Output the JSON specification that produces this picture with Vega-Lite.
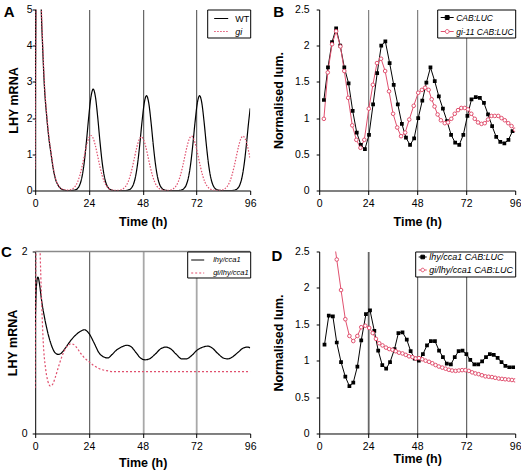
{
  "$schema": "https://vega.github.io/schema/vega-lite/v6.json",
  "padding": {"left": 0.2, "top": 4.5, "right": 0, "bottom": 0},
  "background": "white",
  "config": {
    "font": "Liberation Sans",
    "view": {"stroke": null},
    "axis": {"labelFont": "Liberation Sans", "titleFont": "Liberation Sans", "labelFontSize": 10.5, "titleFontSize": 12.5, "titleFontWeight": "bold", "labelColor": "#000", "titleColor": "#000", "domainColor": "#000", "tickColor": "#000", "domainWidth": 1, "tickWidth": 1, "grid": false, "labelFlush": false, "labelOverlap": false, "labelBound": false},
    "axisX": {"tickSize": 4, "labelPadding": 4, "grid": true},
    "axisY": {"tickSize": 3},
    "legend": {"title": null, "orient": "top-right", "offset": 0, "padding": 1, "strokeColor": "#000", "fillColor": "#fff", "labelFont": "Liberation Sans", "labelColor": "#000"},
    "title": {"font": "Liberation Sans", "fontSize": 15, "fontWeight": "bold", "anchor": "start", "frame": "bounds", "offset": 0, "color": "#000"}
  },
  "resolve": {"scale": {"color": "independent", "strokeDash": "independent"}, "legend": {"color": "independent", "strokeDash": "independent"}},
  "datasets": {
    "a": [
      {"t":0,"v":2.5,"s":"WT"},{"t":0.5,"v":6.5,"s":"WT"},{"t":1,"v":8,"s":"WT"},{"t":2,"v":7,"s":"WT"},{"t":2.7,"v":5,"s":"WT"},{"t":3.3,"v":4,"s":"WT"},{"t":4,"v":3,"s":"WT"},{"t":5.2,"v":2,"s":"WT"},{"t":6,"v":1.5,"s":"WT"},{"t":7.1,"v":1,"s":"WT"},{"t":8,"v":0.62,"s":"WT"},{"t":8.9,"v":0.35,"s":"WT"},{"t":10,"v":0.17,"s":"WT"},{"t":11,"v":0.08,"s":"WT"},{"t":12,"v":0.03,"s":"WT"},{"t":13,"v":0.01,"s":"WT"},{"t":14,"v":0,"s":"WT"},{"t":16,"v":0,"s":"WT"},
      {"t":17.9,"v":0.017,"s":"WT"},{"t":18.9,"v":0.055,"s":"WT"},{"t":19.9,"v":0.157,"s":"WT"},{"t":20.9,"v":0.378,"s":"WT"},{"t":21.9,"v":0.778,"s":"WT"},{"t":22.9,"v":1.364,"s":"WT"},{"t":23.9,"v":2.033,"s":"WT"},{"t":24.9,"v":2.584,"s":"WT"},{"t":25.9,"v":2.8,"s":"WT"},{"t":26.9,"v":2.584,"s":"WT"},{"t":27.9,"v":2.033,"s":"WT"},{"t":28.9,"v":1.364,"s":"WT"},{"t":29.9,"v":0.778,"s":"WT"},{"t":30.9,"v":0.378,"s":"WT"},{"t":31.9,"v":0.157,"s":"WT"},{"t":32.9,"v":0.055,"s":"WT"},{"t":33.9,"v":0.017,"s":"WT"},{"t":35,"v":0,"s":"WT"},{"t":40.5,"v":0,"s":"WT"},
      {"t":41.7,"v":0.016,"s":"WT"},{"t":42.7,"v":0.052,"s":"WT"},{"t":43.7,"v":0.147,"s":"WT"},{"t":44.7,"v":0.354,"s":"WT"},{"t":45.7,"v":0.728,"s":"WT"},{"t":46.7,"v":1.276,"s":"WT"},{"t":47.7,"v":1.902,"s":"WT"},{"t":48.7,"v":2.418,"s":"WT"},{"t":49.7,"v":2.62,"s":"WT"},{"t":50.7,"v":2.418,"s":"WT"},{"t":51.7,"v":1.902,"s":"WT"},{"t":52.7,"v":1.276,"s":"WT"},{"t":53.7,"v":0.728,"s":"WT"},{"t":54.7,"v":0.354,"s":"WT"},{"t":55.7,"v":0.147,"s":"WT"},{"t":56.7,"v":0.052,"s":"WT"},{"t":57.7,"v":0.016,"s":"WT"},{"t":59,"v":0,"s":"WT"},{"t":64,"v":0,"s":"WT"},
      {"t":65.4,"v":0.016,"s":"WT"},{"t":66.4,"v":0.052,"s":"WT"},{"t":67.4,"v":0.147,"s":"WT"},{"t":68.4,"v":0.354,"s":"WT"},{"t":69.4,"v":0.728,"s":"WT"},{"t":70.4,"v":1.276,"s":"WT"},{"t":71.4,"v":1.902,"s":"WT"},{"t":72.4,"v":2.418,"s":"WT"},{"t":73.4,"v":2.62,"s":"WT"},{"t":74.4,"v":2.418,"s":"WT"},{"t":75.4,"v":1.902,"s":"WT"},{"t":76.4,"v":1.276,"s":"WT"},{"t":77.4,"v":0.728,"s":"WT"},{"t":78.4,"v":0.354,"s":"WT"},{"t":79.4,"v":0.147,"s":"WT"},{"t":80.4,"v":0.052,"s":"WT"},{"t":81.4,"v":0.016,"s":"WT"},{"t":83,"v":0,"s":"WT"},{"t":88,"v":0,"s":"WT"},
      {"t":89.3,"v":0.016,"s":"WT"},{"t":90.3,"v":0.051,"s":"WT"},{"t":91.3,"v":0.146,"s":"WT"},{"t":92.3,"v":0.351,"s":"WT"},{"t":93.3,"v":0.723,"s":"WT"},{"t":94.3,"v":1.266,"s":"WT"},{"t":95.3,"v":1.888,"s":"WT"},{"t":96,"v":2.27,"s":"WT"},
      {"t":0,"v":0.6,"s":"gi"},{"t":0.5,"v":6.5,"s":"gi"},{"t":1,"v":8,"s":"gi"},{"t":2,"v":7,"s":"gi"},{"t":2.8,"v":5,"s":"gi"},{"t":3.4,"v":4,"s":"gi"},{"t":4.1,"v":3,"s":"gi"},{"t":5.3,"v":2,"s":"gi"},{"t":6.1,"v":1.5,"s":"gi"},{"t":7.2,"v":1,"s":"gi"},{"t":8.1,"v":0.62,"s":"gi"},{"t":9,"v":0.35,"s":"gi"},{"t":10,"v":0.18,"s":"gi"},{"t":11,"v":0.09,"s":"gi"},{"t":12,"v":0.04,"s":"gi"},{"t":13,"v":0.02,"s":"gi"},
      {"t":14.9,"v":0.008,"s":"gi"},{"t":15.9,"v":0.023,"s":"gi"},{"t":16.9,"v":0.055,"s":"gi"},{"t":17.9,"v":0.119,"s":"gi"},{"t":18.9,"v":0.234,"s":"gi"},{"t":19.9,"v":0.413,"s":"gi"},{"t":20.9,"v":0.661,"s":"gi"},{"t":21.9,"v":0.952,"s":"gi"},{"t":22.9,"v":1.234,"s":"gi"},{"t":23.9,"v":1.442,"s":"gi"},{"t":24.9,"v":1.52,"s":"gi"},{"t":25.9,"v":1.442,"s":"gi"},{"t":26.9,"v":1.234,"s":"gi"},{"t":27.9,"v":0.952,"s":"gi"},{"t":28.9,"v":0.661,"s":"gi"},{"t":29.9,"v":0.413,"s":"gi"},{"t":30.9,"v":0.234,"s":"gi"},{"t":31.9,"v":0.119,"s":"gi"},{"t":32.9,"v":0.055,"s":"gi"},{"t":33.9,"v":0.023,"s":"gi"},{"t":34.9,"v":0.008,"s":"gi"},{"t":36.1,"v":0.003,"s":"gi"},
      {"t":37.4,"v":0.008,"s":"gi"},{"t":38.4,"v":0.022,"s":"gi"},{"t":39.4,"v":0.053,"s":"gi"},{"t":40.4,"v":0.115,"s":"gi"},{"t":41.4,"v":0.228,"s":"gi"},{"t":42.4,"v":0.403,"s":"gi"},{"t":43.4,"v":0.644,"s":"gi"},{"t":44.4,"v":0.926,"s":"gi"},{"t":45.4,"v":1.202,"s":"gi"},{"t":46.4,"v":1.405,"s":"gi"},{"t":47.4,"v":1.48,"s":"gi"},{"t":48.4,"v":1.405,"s":"gi"},{"t":49.4,"v":1.202,"s":"gi"},{"t":50.4,"v":0.926,"s":"gi"},{"t":51.4,"v":0.644,"s":"gi"},{"t":52.4,"v":0.403,"s":"gi"},{"t":53.4,"v":0.228,"s":"gi"},{"t":54.4,"v":0.115,"s":"gi"},{"t":55.4,"v":0.053,"s":"gi"},{"t":56.4,"v":0.022,"s":"gi"},{"t":57.4,"v":0.008,"s":"gi"},{"t":58.6,"v":0.003,"s":"gi"},
      {"t":59.8,"v":0.008,"s":"gi"},{"t":60.8,"v":0.022,"s":"gi"},{"t":61.8,"v":0.054,"s":"gi"},{"t":62.8,"v":0.117,"s":"gi"},{"t":63.8,"v":0.231,"s":"gi"},{"t":64.8,"v":0.408,"s":"gi"},{"t":65.8,"v":0.653,"s":"gi"},{"t":66.8,"v":0.939,"s":"gi"},{"t":67.8,"v":1.218,"s":"gi"},{"t":68.8,"v":1.424,"s":"gi"},{"t":69.8,"v":1.5,"s":"gi"},{"t":70.8,"v":1.424,"s":"gi"},{"t":71.8,"v":1.218,"s":"gi"},{"t":72.8,"v":0.939,"s":"gi"},{"t":73.8,"v":0.653,"s":"gi"},{"t":74.8,"v":0.408,"s":"gi"},{"t":75.8,"v":0.231,"s":"gi"},{"t":76.8,"v":0.117,"s":"gi"},{"t":77.8,"v":0.054,"s":"gi"},{"t":78.8,"v":0.022,"s":"gi"},{"t":79.8,"v":0.008,"s":"gi"},{"t":81.3,"v":0.003,"s":"gi"},
      {"t":82.8,"v":0.008,"s":"gi"},{"t":83.8,"v":0.022,"s":"gi"},{"t":84.8,"v":0.054,"s":"gi"},{"t":85.8,"v":0.117,"s":"gi"},{"t":86.8,"v":0.231,"s":"gi"},{"t":87.8,"v":0.408,"s":"gi"},{"t":88.8,"v":0.653,"s":"gi"},{"t":89.8,"v":0.939,"s":"gi"},{"t":90.8,"v":1.218,"s":"gi"},{"t":91.8,"v":1.424,"s":"gi"},{"t":92.8,"v":1.5,"s":"gi"},{"t":93.8,"v":1.424,"s":"gi"},{"t":94.8,"v":1.218,"s":"gi"},{"t":95.8,"v":0.939,"s":"gi"},{"t":96,"v":0.88,"s":"gi"}
    ],
    "b": [
      {"t":2.3,"v":1.25,"s":"CAB:LUC"},{"t":4.3,"v":1.7,"s":"CAB:LUC"},{"t":6.3,"v":2.05,"s":"CAB:LUC"},{"t":8.3,"v":2.24,"s":"CAB:LUC"},{"t":10.3,"v":2.0,"s":"CAB:LUC"},{"t":12.3,"v":1.7,"s":"CAB:LUC"},{"t":14.4,"v":1.48,"s":"CAB:LUC"},{"t":16.4,"v":1.1,"s":"CAB:LUC"},{"t":18.4,"v":0.8,"s":"CAB:LUC"},{"t":20.4,"v":0.63,"s":"CAB:LUC"},{"t":22.4,"v":0.57,"s":"CAB:LUC"},{"t":24.4,"v":0.77,"s":"CAB:LUC"},{"t":26.4,"v":1.19,"s":"CAB:LUC"},{"t":28.4,"v":1.62,"s":"CAB:LUC"},{"t":30.4,"v":2.0,"s":"CAB:LUC"},{"t":32.4,"v":2.06,"s":"CAB:LUC"},{"t":34.5,"v":1.76,"s":"CAB:LUC"},{"t":36.5,"v":1.46,"s":"CAB:LUC"},{"t":38.5,"v":1.19,"s":"CAB:LUC"},{"t":40.5,"v":0.92,"s":"CAB:LUC"},{"t":42.5,"v":0.73,"s":"CAB:LUC"},{"t":44.5,"v":0.63,"s":"CAB:LUC"},{"t":46.5,"v":0.72,"s":"CAB:LUC"},{"t":48.5,"v":1.0,"s":"CAB:LUC"},{"t":50.5,"v":1.24,"s":"CAB:LUC"},{"t":52.5,"v":1.49,"s":"CAB:LUC"},{"t":54.5,"v":1.7,"s":"CAB:LUC"},{"t":56.6,"v":1.51,"s":"CAB:LUC"},{"t":58.6,"v":1.3,"s":"CAB:LUC"},{"t":60.6,"v":1.13,"s":"CAB:LUC"},{"t":62.6,"v":0.96,"s":"CAB:LUC"},{"t":64.6,"v":0.77,"s":"CAB:LUC"},{"t":66.6,"v":0.66,"s":"CAB:LUC"},{"t":68.6,"v":0.63,"s":"CAB:LUC"},{"t":70.6,"v":0.77,"s":"CAB:LUC"},{"t":72.6,"v":1.03,"s":"CAB:LUC"},{"t":74.6,"v":1.26,"s":"CAB:LUC"},{"t":76.7,"v":1.29,"s":"CAB:LUC"},{"t":78.7,"v":1.28,"s":"CAB:LUC"},{"t":80.7,"v":1.21,"s":"CAB:LUC"},{"t":82.7,"v":1.05,"s":"CAB:LUC"},{"t":84.7,"v":0.89,"s":"CAB:LUC"},{"t":86.7,"v":0.74,"s":"CAB:LUC"},{"t":88.7,"v":0.67,"s":"CAB:LUC"},{"t":90.7,"v":0.65,"s":"CAB:LUC"},{"t":92.7,"v":0.7,"s":"CAB:LUC"},{"t":94.7,"v":0.82,"s":"CAB:LUC"},
      {"t":2.3,"v":0.99,"s":"gi-11 CAB:LUC"},{"t":4.2,"v":1.63,"s":"gi-11 CAB:LUC"},{"t":6.3,"v":2.02,"s":"gi-11 CAB:LUC"},{"t":8.3,"v":2.2,"s":"gi-11 CAB:LUC"},{"t":10.4,"v":1.99,"s":"gi-11 CAB:LUC"},{"t":12.3,"v":1.65,"s":"gi-11 CAB:LUC"},{"t":14.2,"v":1.28,"s":"gi-11 CAB:LUC"},{"t":16.2,"v":0.9,"s":"gi-11 CAB:LUC"},{"t":18.2,"v":0.7,"s":"gi-11 CAB:LUC"},{"t":20.2,"v":0.59,"s":"gi-11 CAB:LUC"},{"t":22.1,"v":0.7,"s":"gi-11 CAB:LUC"},{"t":24.3,"v":1.13,"s":"gi-11 CAB:LUC"},{"t":26.3,"v":1.46,"s":"gi-11 CAB:LUC"},{"t":28.3,"v":1.76,"s":"gi-11 CAB:LUC"},{"t":30.3,"v":1.82,"s":"gi-11 CAB:LUC"},{"t":32.3,"v":1.65,"s":"gi-11 CAB:LUC"},{"t":34.2,"v":1.37,"s":"gi-11 CAB:LUC"},{"t":36.2,"v":1.06,"s":"gi-11 CAB:LUC"},{"t":38.2,"v":0.87,"s":"gi-11 CAB:LUC"},{"t":40.1,"v":0.75,"s":"gi-11 CAB:LUC"},{"t":42.1,"v":0.8,"s":"gi-11 CAB:LUC"},{"t":44.1,"v":0.98,"s":"gi-11 CAB:LUC"},{"t":46.3,"v":1.17,"s":"gi-11 CAB:LUC"},{"t":48.5,"v":1.35,"s":"gi-11 CAB:LUC"},{"t":50.3,"v":1.39,"s":"gi-11 CAB:LUC"},{"t":51.9,"v":1.42,"s":"gi-11 CAB:LUC"},{"t":53.6,"v":1.39,"s":"gi-11 CAB:LUC"},{"t":55.1,"v":1.26,"s":"gi-11 CAB:LUC"},{"t":56.5,"v":1.16,"s":"gi-11 CAB:LUC"},{"t":58.0,"v":1.05,"s":"gi-11 CAB:LUC"},{"t":59.6,"v":0.97,"s":"gi-11 CAB:LUC"},{"t":61.5,"v":0.93,"s":"gi-11 CAB:LUC"},{"t":63.1,"v":0.94,"s":"gi-11 CAB:LUC"},{"t":64.7,"v":0.99,"s":"gi-11 CAB:LUC"},{"t":66.4,"v":1.06,"s":"gi-11 CAB:LUC"},{"t":68.0,"v":1.11,"s":"gi-11 CAB:LUC"},{"t":69.6,"v":1.14,"s":"gi-11 CAB:LUC"},{"t":71.3,"v":1.14,"s":"gi-11 CAB:LUC"},{"t":72.9,"v":1.12,"s":"gi-11 CAB:LUC"},{"t":74.5,"v":1.06,"s":"gi-11 CAB:LUC"},{"t":76.2,"v":0.99,"s":"gi-11 CAB:LUC"},{"t":77.8,"v":0.94,"s":"gi-11 CAB:LUC"},{"t":79.5,"v":0.92,"s":"gi-11 CAB:LUC"},{"t":81.1,"v":0.93,"s":"gi-11 CAB:LUC"},{"t":82.7,"v":0.98,"s":"gi-11 CAB:LUC"},{"t":84.4,"v":1.03,"s":"gi-11 CAB:LUC"},{"t":86.0,"v":1.03,"s":"gi-11 CAB:LUC"},{"t":87.7,"v":1.03,"s":"gi-11 CAB:LUC"},{"t":89.3,"v":1.0,"s":"gi-11 CAB:LUC"},{"t":90.9,"v":0.97,"s":"gi-11 CAB:LUC"},{"t":92.6,"v":0.93,"s":"gi-11 CAB:LUC"},{"t":94.2,"v":0.89,"s":"gi-11 CAB:LUC"},{"t":95.9,"v":0.84,"s":"gi-11 CAB:LUC"}
    ],
    "c": [
      {"t":0,"v":1.2,"s":"lhy/cca1"},{"t":0.5,"v":1.6,"s":"lhy/cca1"},{"t":1.2,"v":1.72,"s":"lhy/cca1"},{"t":2,"v":1.63,"s":"lhy/cca1"},{"t":2.7,"v":1.49,"s":"lhy/cca1"},{"t":4.2,"v":1.27,"s":"lhy/cca1"},{"t":5.6,"v":1.11,"s":"lhy/cca1"},{"t":7.1,"v":0.98,"s":"lhy/cca1"},{"t":8.5,"v":0.9,"s":"lhy/cca1"},{"t":9.5,"v":0.875,"s":"lhy/cca1"},{"t":10.5,"v":0.87,"s":"lhy/cca1"},{"t":11.5,"v":0.88,"s":"lhy/cca1"},{"t":13.5,"v":0.94,"s":"lhy/cca1"},{"t":15.8,"v":1.02,"s":"lhy/cca1"},{"t":18,"v":1.08,"s":"lhy/cca1"},{"t":20,"v":1.12,"s":"lhy/cca1"},{"t":22,"v":1.14,"s":"lhy/cca1"},{"t":24,"v":1.1,"s":"lhy/cca1"},{"t":26.2,"v":1.0,"s":"lhy/cca1"},{"t":28.4,"v":0.89,"s":"lhy/cca1"},{"t":30.7,"v":0.84,"s":"lhy/cca1"},{"t":32.5,"v":0.83,"s":"lhy/cca1"},{"t":34,"v":0.86,"s":"lhy/cca1"},{"t":36,"v":0.91,"s":"lhy/cca1"},{"t":38.5,"v":0.95,"s":"lhy/cca1"},{"t":41,"v":0.97,"s":"lhy/cca1"},{"t":43,"v":0.95,"s":"lhy/cca1"},{"t":45,"v":0.89,"s":"lhy/cca1"},{"t":47,"v":0.83,"s":"lhy/cca1"},{"t":49,"v":0.81,"s":"lhy/cca1"},{"t":51,"v":0.82,"s":"lhy/cca1"},{"t":53.5,"v":0.87,"s":"lhy/cca1"},{"t":56,"v":0.93,"s":"lhy/cca1"},{"t":58.3,"v":0.95,"s":"lhy/cca1"},{"t":60.5,"v":0.93,"s":"lhy/cca1"},{"t":63,"v":0.87,"s":"lhy/cca1"},{"t":65.5,"v":0.82,"s":"lhy/cca1"},{"t":67.5,"v":0.82,"s":"lhy/cca1"},{"t":70,"v":0.86,"s":"lhy/cca1"},{"t":72.5,"v":0.92,"s":"lhy/cca1"},{"t":75,"v":0.95,"s":"lhy/cca1"},{"t":77,"v":0.96,"s":"lhy/cca1"},{"t":79,"v":0.94,"s":"lhy/cca1"},{"t":81.5,"v":0.88,"s":"lhy/cca1"},{"t":84,"v":0.83,"s":"lhy/cca1"},{"t":86,"v":0.82,"s":"lhy/cca1"},{"t":88,"v":0.84,"s":"lhy/cca1"},{"t":90.5,"v":0.89,"s":"lhy/cca1"},{"t":93,"v":0.94,"s":"lhy/cca1"},{"t":95,"v":0.95,"s":"lhy/cca1"},{"t":96,"v":0.94,"s":"lhy/cca1"},
      {"t":0,"v":0.5,"s":"gi/lhy/cca1"},{"t":0.4,"v":2.2,"s":"gi/lhy/cca1"},{"t":0.9,"v":2.8,"s":"gi/lhy/cca1"},{"t":1.6,"v":2.6,"s":"gi/lhy/cca1"},{"t":2.2,"v":2.0,"s":"gi/lhy/cca1"},{"t":2.8,"v":1.5,"s":"gi/lhy/cca1"},{"t":3.6,"v":1.0,"s":"gi/lhy/cca1"},{"t":4.6,"v":0.72,"s":"gi/lhy/cca1"},{"t":5.6,"v":0.58,"s":"gi/lhy/cca1"},{"t":6.8,"v":0.52,"s":"gi/lhy/cca1"},{"t":8,"v":0.55,"s":"gi/lhy/cca1"},{"t":9,"v":0.62,"s":"gi/lhy/cca1"},{"t":10,"v":0.7,"s":"gi/lhy/cca1"},{"t":11,"v":0.78,"s":"gi/lhy/cca1"},{"t":12,"v":0.85,"s":"gi/lhy/cca1"},{"t":13,"v":0.91,"s":"gi/lhy/cca1"},{"t":14,"v":0.95,"s":"gi/lhy/cca1"},{"t":15,"v":0.975,"s":"gi/lhy/cca1"},{"t":16,"v":0.985,"s":"gi/lhy/cca1"},{"t":17,"v":0.98,"s":"gi/lhy/cca1"},{"t":18,"v":0.96,"s":"gi/lhy/cca1"},{"t":19,"v":0.93,"s":"gi/lhy/cca1"},{"t":20,"v":0.89,"s":"gi/lhy/cca1"},{"t":21,"v":0.86,"s":"gi/lhy/cca1"},{"t":22,"v":0.83,"s":"gi/lhy/cca1"},{"t":24,"v":0.79,"s":"gi/lhy/cca1"},{"t":26,"v":0.75,"s":"gi/lhy/cca1"},{"t":28,"v":0.72,"s":"gi/lhy/cca1"},{"t":30,"v":0.7,"s":"gi/lhy/cca1"},{"t":32,"v":0.69,"s":"gi/lhy/cca1"},{"t":35,"v":0.68,"s":"gi/lhy/cca1"},{"t":40,"v":0.68,"s":"gi/lhy/cca1"},{"t":96,"v":0.68,"s":"gi/lhy/cca1"}
    ],
    "d": [
      {"t":2.6,"v":1.22,"s":"lhy/cca1 CAB:LUC"},{"t":4.7,"v":1.62,"s":"lhy/cca1 CAB:LUC"},{"t":6.7,"v":1.61,"s":"lhy/cca1 CAB:LUC"},{"t":8.6,"v":1.25,"s":"lhy/cca1 CAB:LUC"},{"t":10.7,"v":0.98,"s":"lhy/cca1 CAB:LUC"},{"t":12.8,"v":0.78,"s":"lhy/cca1 CAB:LUC"},{"t":14.8,"v":0.65,"s":"lhy/cca1 CAB:LUC"},{"t":16.7,"v":0.7,"s":"lhy/cca1 CAB:LUC"},{"t":18.7,"v":0.92,"s":"lhy/cca1 CAB:LUC"},{"t":20.6,"v":1.28,"s":"lhy/cca1 CAB:LUC"},{"t":22.9,"v":1.64,"s":"lhy/cca1 CAB:LUC"},{"t":24.9,"v":1.69,"s":"lhy/cca1 CAB:LUC"},{"t":27.0,"v":1.41,"s":"lhy/cca1 CAB:LUC"},{"t":28.9,"v":1.14,"s":"lhy/cca1 CAB:LUC"},{"t":30.9,"v":0.94,"s":"lhy/cca1 CAB:LUC"},{"t":32.8,"v":0.89,"s":"lhy/cca1 CAB:LUC"},{"t":34.7,"v":0.98,"s":"lhy/cca1 CAB:LUC"},{"t":36.9,"v":1.16,"s":"lhy/cca1 CAB:LUC"},{"t":38.8,"v":1.38,"s":"lhy/cca1 CAB:LUC"},{"t":40.8,"v":1.39,"s":"lhy/cca1 CAB:LUC"},{"t":42.9,"v":1.29,"s":"lhy/cca1 CAB:LUC"},{"t":44.8,"v":1.13,"s":"lhy/cca1 CAB:LUC"},{"t":46.8,"v":1.03,"s":"lhy/cca1 CAB:LUC"},{"t":48.8,"v":1.0,"s":"lhy/cca1 CAB:LUC"},{"t":50.8,"v":1.09,"s":"lhy/cca1 CAB:LUC"},{"t":52.8,"v":1.21,"s":"lhy/cca1 CAB:LUC"},{"t":54.7,"v":1.27,"s":"lhy/cca1 CAB:LUC"},{"t":56.7,"v":1.27,"s":"lhy/cca1 CAB:LUC"},{"t":58.7,"v":1.14,"s":"lhy/cca1 CAB:LUC"},{"t":60.6,"v":1.05,"s":"lhy/cca1 CAB:LUC"},{"t":62.5,"v":0.96,"s":"lhy/cca1 CAB:LUC"},{"t":64.5,"v":0.95,"s":"lhy/cca1 CAB:LUC"},{"t":66.4,"v":1.05,"s":"lhy/cca1 CAB:LUC"},{"t":68.3,"v":1.13,"s":"lhy/cca1 CAB:LUC"},{"t":70.2,"v":1.14,"s":"lhy/cca1 CAB:LUC"},{"t":72.1,"v":1.09,"s":"lhy/cca1 CAB:LUC"},{"t":74.0,"v":1.01,"s":"lhy/cca1 CAB:LUC"},{"t":76.0,"v":0.95,"s":"lhy/cca1 CAB:LUC"},{"t":77.9,"v":0.95,"s":"lhy/cca1 CAB:LUC"},{"t":79.8,"v":0.99,"s":"lhy/cca1 CAB:LUC"},{"t":81.7,"v":1.05,"s":"lhy/cca1 CAB:LUC"},{"t":83.6,"v":1.09,"s":"lhy/cca1 CAB:LUC"},{"t":85.5,"v":1.08,"s":"lhy/cca1 CAB:LUC"},{"t":87.4,"v":1.04,"s":"lhy/cca1 CAB:LUC"},{"t":89.3,"v":0.98,"s":"lhy/cca1 CAB:LUC"},{"t":91.2,"v":0.93,"s":"lhy/cca1 CAB:LUC"},{"t":93.1,"v":0.91,"s":"lhy/cca1 CAB:LUC"},{"t":95.0,"v":0.91,"s":"lhy/cca1 CAB:LUC"},
      {"t":6.6,"v":2.8,"s":"gi/lhy/cca1 CAB:LUC"},{"t":8.6,"v":2.39,"s":"gi/lhy/cca1 CAB:LUC"},{"t":10.7,"v":1.97,"s":"gi/lhy/cca1 CAB:LUC"},{"t":12.8,"v":1.57,"s":"gi/lhy/cca1 CAB:LUC"},{"t":14.8,"v":1.34,"s":"gi/lhy/cca1 CAB:LUC"},{"t":16.7,"v":1.27,"s":"gi/lhy/cca1 CAB:LUC"},{"t":18.7,"v":1.34,"s":"gi/lhy/cca1 CAB:LUC"},{"t":20.6,"v":1.46,"s":"gi/lhy/cca1 CAB:LUC"},{"t":22.6,"v":1.48,"s":"gi/lhy/cca1 CAB:LUC"},{"t":24.5,"v":1.45,"s":"gi/lhy/cca1 CAB:LUC"},{"t":26.2,"v":1.38,"s":"gi/lhy/cca1 CAB:LUC"},{"t":27.8,"v":1.3,"s":"gi/lhy/cca1 CAB:LUC"},{"t":29.4,"v":1.24,"s":"gi/lhy/cca1 CAB:LUC"},{"t":31.0,"v":1.21,"s":"gi/lhy/cca1 CAB:LUC"},{"t":32.7,"v":1.18,"s":"gi/lhy/cca1 CAB:LUC"},{"t":34.3,"v":1.16,"s":"gi/lhy/cca1 CAB:LUC"},{"t":35.9,"v":1.15,"s":"gi/lhy/cca1 CAB:LUC"},{"t":37.5,"v":1.13,"s":"gi/lhy/cca1 CAB:LUC"},{"t":39.1,"v":1.11,"s":"gi/lhy/cca1 CAB:LUC"},{"t":40.8,"v":1.1,"s":"gi/lhy/cca1 CAB:LUC"},{"t":42.4,"v":1.08,"s":"gi/lhy/cca1 CAB:LUC"},{"t":44.0,"v":1.06,"s":"gi/lhy/cca1 CAB:LUC"},{"t":45.7,"v":1.05,"s":"gi/lhy/cca1 CAB:LUC"},{"t":47.3,"v":1.03,"s":"gi/lhy/cca1 CAB:LUC"},{"t":48.9,"v":1.035,"s":"gi/lhy/cca1 CAB:LUC"},{"t":50.5,"v":1.02,"s":"gi/lhy/cca1 CAB:LUC"},{"t":52.1,"v":1.0,"s":"gi/lhy/cca1 CAB:LUC"},{"t":53.8,"v":0.985,"s":"gi/lhy/cca1 CAB:LUC"},{"t":55.4,"v":0.965,"s":"gi/lhy/cca1 CAB:LUC"},{"t":57.0,"v":0.94,"s":"gi/lhy/cca1 CAB:LUC"},{"t":58.6,"v":0.92,"s":"gi/lhy/cca1 CAB:LUC"},{"t":60.3,"v":0.905,"s":"gi/lhy/cca1 CAB:LUC"},{"t":61.9,"v":0.89,"s":"gi/lhy/cca1 CAB:LUC"},{"t":63.5,"v":0.875,"s":"gi/lhy/cca1 CAB:LUC"},{"t":65.1,"v":0.865,"s":"gi/lhy/cca1 CAB:LUC"},{"t":66.8,"v":0.86,"s":"gi/lhy/cca1 CAB:LUC"},{"t":68.4,"v":0.865,"s":"gi/lhy/cca1 CAB:LUC"},{"t":70.0,"v":0.87,"s":"gi/lhy/cca1 CAB:LUC"},{"t":71.6,"v":0.87,"s":"gi/lhy/cca1 CAB:LUC"},{"t":73.3,"v":0.86,"s":"gi/lhy/cca1 CAB:LUC"},{"t":74.9,"v":0.84,"s":"gi/lhy/cca1 CAB:LUC"},{"t":76.5,"v":0.825,"s":"gi/lhy/cca1 CAB:LUC"},{"t":78.1,"v":0.815,"s":"gi/lhy/cca1 CAB:LUC"},{"t":79.7,"v":0.8,"s":"gi/lhy/cca1 CAB:LUC"},{"t":81.4,"v":0.785,"s":"gi/lhy/cca1 CAB:LUC"},{"t":83.0,"v":0.78,"s":"gi/lhy/cca1 CAB:LUC"},{"t":84.6,"v":0.775,"s":"gi/lhy/cca1 CAB:LUC"},{"t":86.2,"v":0.765,"s":"gi/lhy/cca1 CAB:LUC"},{"t":87.9,"v":0.755,"s":"gi/lhy/cca1 CAB:LUC"},{"t":89.5,"v":0.75,"s":"gi/lhy/cca1 CAB:LUC"},{"t":91.1,"v":0.745,"s":"gi/lhy/cca1 CAB:LUC"},{"t":92.8,"v":0.74,"s":"gi/lhy/cca1 CAB:LUC"},{"t":94.4,"v":0.735,"s":"gi/lhy/cca1 CAB:LUC"},{"t":96.0,"v":0.73,"s":"gi/lhy/cca1 CAB:LUC"}
    ]
  },
  "columns": 2,
  "bounds": "flush",
  "spacing": {"row": 61, "column": 69},
  "concat": [
    {
      "width": 215, "height": 181,
      "title": {"text": "A", "dx": -3.7, "dy": 19},
      "data": {"name": "a"},
      "mark": {"type": "line", "clip": true, "interpolate": "monotone", "strokeWidth": 1.2},
      "encoding": {
        "x": {"field": "t", "type": "quantitative", "scale": {"domain": [0, 96], "nice": false},
              "axis": {"title": "Time (h)", "values": [0, 24, 48, 72, 96], "format": "d", "titlePadding": 6, "gridColor": "#444", "gridOpacity": {"condition": {"test": "datum.value == 0 || datum.value == 96", "value": 0}, "value": 1}}},
        "y": {"field": "v", "type": "quantitative", "scale": {"domain": [0, 5], "nice": false},
              "axis": {"title": "LHY mRNA", "values": [0, 1, 2, 3, 4, 5], "format": "d", "labelPadding": 0, "titlePadding": 6}},
        "color": {"field": "s", "type": "nominal", "scale": {"domain": ["WT", "gi"], "range": ["#000000", "#e0506e"]},
                  "legend": {"symbolType": "stroke", "symbolSize": 196, "symbolStrokeWidth": 1.2, "symbolOffset": 5, "labelOffset": 6, "labelFontSize": 9, "rowPadding": 0,
                             "labelExpr": "datum.label + '\u00a0\u00a0\u00a0'",
                             "encode": {"labels": {"update": {"fontStyle": {"signal": "datum.value === 'gi' ? 'italic' : 'normal'"}}},
                                        "symbols": {"update": {"strokeDash": {"signal": "datum.value === 'gi' ? [1.5, 1.5] : [1, 0]"}}}}}},
        "strokeDash": {"field": "s", "type": "nominal", "scale": {"domain": ["WT", "gi"], "range": [[1, 0], [1.5, 1.5]]}, "legend": null}
      }
    },
    {
      "width": 196, "height": 181,
      "title": {"text": "B", "dx": 0.7, "dy": 19},
      "data": {"name": "b"},
      "encoding": {
        "x": {"field": "t", "type": "quantitative", "scale": {"domain": [0, 96], "nice": false},
              "axis": {"title": "Time (h)", "values": [0, 24, 48, 72, 96], "format": "d", "titlePadding": 6, "gridColor": "#666", "gridOpacity": {"condition": {"test": "datum.value == 0 || datum.value == 96", "value": 0}, "value": 1}}},
        "y": {"field": "v", "type": "quantitative", "scale": {"domain": [0, 2.5], "nice": false},
              "axis": {"title": "Normalised lum.", "values": [0, 0.5, 1, 1.5, 2, 2.5], "format": "~g", "labelPadding": 7, "titlePadding": 9}}
      },
      "layer": [
        {"mark": {"type": "line", "strokeWidth": 1, "clip": true},
         "encoding": {"color": {"field": "s", "type": "nominal", "scale": {"domain": ["CAB:LUC", "gi-11 CAB:LUC"], "range": ["#000000", "#e0506e"]},
           "legend": {"symbolSize": 169, "symbolOffset": 2, "labelOffset": 2, "labelFontSize": 8.5, "labelFontStyle": "italic", "rowPadding": 2,
                      "labelExpr": "datum.label + '\u00a0'",
                      "encode": {"symbols": {"update": {
                        "shape": {"signal": "datum.value === 'CAB:LUC' ? 'M-1,0L1,0M-0.3,-0.3L0.3,-0.3L0.3,0.3L-0.3,0.3Z' : 'M-1,0L-0.3,0M0.3,0L1,0M-0.3,0A0.3,0.3 0 1,0 0.3,0A0.3,0.3 0 1,0 -0.3,0Z'"},
                        "fill": {"signal": "datum.value === 'CAB:LUC' ? '#000' : '#fff'"},
                        "fillOpacity": {"value": 1}, "strokeWidth": {"value": 1}}}}}}}},
        {"transform": [{"filter": "datum.s === 'CAB:LUC'"}],
         "mark": {"type": "point", "shape": "square", "size": 14, "filled": true, "color": "#000", "opacity": 1, "clip": true}},
        {"transform": [{"filter": "datum.s !== 'CAB:LUC'"}],
         "mark": {"type": "point", "shape": "circle", "size": 13, "fill": "#fff", "fillOpacity": 1, "stroke": "#e0506e", "strokeWidth": 1, "opacity": 1, "clip": true}}
      ]
    },
    {
      "width": 215, "height": 182,
      "title": {"text": "C", "dx": -5.4, "dy": 18},
      "encoding": {
        "x": {"field": "t", "type": "quantitative", "scale": {"domain": [0, 96], "nice": false},
              "axis": {"title": "Time (h)", "values": [0, 24, 48, 72, 96], "format": "d", "titlePadding": 5,
                       "gridColor": {"condition": {"test": "datum.value == 24", "value": "#444"}, "value": "#a8a8a8"},
                       "gridWidth": {"condition": {"test": "datum.value == 24", "value": 1}, "value": 1.8},
                       "gridOpacity": {"condition": {"test": "datum.value == 0 || datum.value == 96", "value": 0}, "value": 1}}},
        "y": {"field": "v", "type": "quantitative", "scale": {"domain": [0, 2], "nice": false},
              "axis": {"title": "LHY mRNA", "values": [0, 1, 2], "format": "d", "labelPadding": 5, "titlePadding": 2}}
      },
      "layer": [
        {"data": {"values": [{"v": 2}]}, "mark": {"type": "rule", "color": "#8a8a8a", "strokeWidth": 1.5}, "encoding": {"x": {"value": 0}, "x2": {"value": 215}}},
        {"data": {"name": "c"},
         "mark": {"type": "line", "clip": true, "interpolate": "monotone", "strokeWidth": 1.2},
         "encoding": {
           "color": {"field": "s", "type": "nominal", "scale": {"domain": ["lhy/cca1", "gi/lhy/cca1"], "range": ["#000000", "#e0506e"]},
                     "legend": {"symbolType": "stroke", "symbolSize": 169, "symbolStrokeWidth": 1.2, "symbolOffset": 2, "labelOffset": 8, "labelFontSize": 7.5, "labelFontStyle": "italic", "rowPadding": 2,
                                "labelExpr": "datum.label + '\u00a0\u00a0\u00a0\u00a0\u00a0\u00a0\u00a0\u00a0\u00a0\u00a0\u00a0\u00a0\u00a0\u00a0'",
                                "encode": {"symbols": {"update": {"strokeDash": {"signal": "datum.value === 'gi/lhy/cca1' ? [2, 2] : [1, 0]"}}}}}},
           "strokeDash": {"field": "s", "type": "nominal", "scale": {"domain": ["lhy/cca1", "gi/lhy/cca1"], "range": [[1, 0], [2, 2]]}, "legend": null}}}
      ]
    },
    {
      "width": 196, "height": 182,
      "title": {"text": "D", "dx": -1, "dy": 22},
      "data": {"name": "d"},
      "encoding": {
        "x": {"field": "t", "type": "quantitative", "scale": {"domain": [0, 96], "nice": false},
              "axis": {"title": "Time (h)", "values": [0, 24, 48, 72, 96], "format": "d", "titlePadding": 1,
                       "gridColor": {"condition": {"test": "datum.value == 24", "value": "#666"}, "value": "#444"},
                       "gridWidth": {"condition": {"test": "datum.value == 24", "value": 1.8}, "value": 1},
                       "gridOpacity": {"condition": {"test": "datum.value == 0 || datum.value == 96", "value": 0}, "value": 1}}},
        "y": {"field": "v", "type": "quantitative", "scale": {"domain": [0, 2.5], "nice": false},
              "axis": {"title": "Normalised lum.", "values": [0, 0.5, 1, 1.5, 2, 2.5], "format": "~g", "labelPadding": 7, "titlePadding": 9}}
      },
      "layer": [
        {"mark": {"type": "line", "strokeWidth": 1, "clip": true},
         "encoding": {"color": {"field": "s", "type": "nominal", "scale": {"domain": ["lhy/cca1 CAB:LUC", "gi/lhy/cca1 CAB:LUC"], "range": ["#000000", "#e0506e"]},
           "legend": {"symbolSize": 64, "symbolOffset": 2, "labelOffset": 2, "labelFontSize": 9, "labelFontStyle": "italic", "rowPadding": 3,
                      "labelExpr": "datum.label + '\u00a0'",
                      "encode": {"symbols": {"update": {
                        "shape": {"signal": "datum.value === 'lhy/cca1 CAB:LUC' ? 'M-1,0L1,0M-0.45,-0.45L0.45,-0.45L0.45,0.45L-0.45,0.45Z' : 'M-1,0L-0.45,0M0.45,0L1,0M-0.45,0A0.45,0.45 0 1,0 0.45,0A0.45,0.45 0 1,0 -0.45,0Z'"},
                        "fill": {"signal": "datum.value === 'lhy/cca1 CAB:LUC' ? '#000' : '#fff'"},
                        "fillOpacity": {"value": 1}, "strokeWidth": {"value": 1}}}}}}}},
        {"transform": [{"filter": "datum.s === 'lhy/cca1 CAB:LUC'"}],
         "mark": {"type": "point", "shape": "square", "size": 14, "filled": true, "color": "#000", "opacity": 1, "clip": true}},
        {"transform": [{"filter": "datum.s !== 'lhy/cca1 CAB:LUC'"}],
         "mark": {"type": "point", "shape": "circle", "size": 13, "fill": "#fff", "fillOpacity": 1, "stroke": "#e0506e", "strokeWidth": 1, "opacity": 1, "clip": true}}
      ]
    }
  ]
}
